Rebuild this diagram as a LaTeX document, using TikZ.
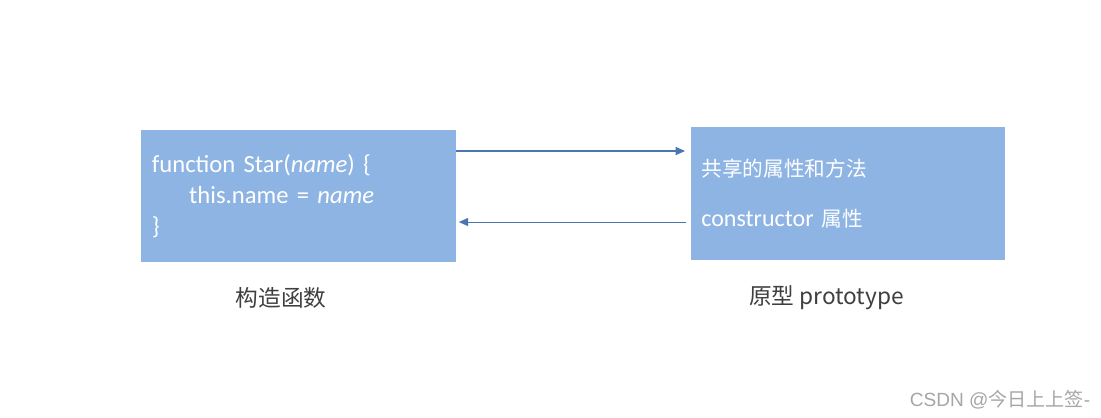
\documentclass[tikz,border=0pt]{standalone}
\usepackage{fontspec}
\setmainfont{Carlito}
\newfontfamily\cjk{Noto Sans CJK SC}
\newfontfamily\wm{Liberation Sans}
\usepackage{xcolor}
\usepackage{tikz}
\usetikzlibrary{arrows.meta,positioning}
\definecolor{boxblue}{HTML}{8EB4E3}
\definecolor{arrowblue}{HTML}{4A76B4}
\definecolor{labelgray}{HTML}{3F3F3F}
\definecolor{markgray}{HTML}{A6A6A6}
\tikzset{card/.style={fill=boxblue,text=white,minimum width=236pt,minimum height=99pt,inner xsep=8pt,align=left,anchor=center},link/.style={-{Triangle[length=7pt,width=6pt]},draw=arrowblue,line width=.8pt},caption/.style={text=labelgray,font=\cjk\fontsize{17pt}{20pt}\selectfont}}

\begin{document}
\begin{tikzpicture}[x=0.75pt,y=-0.75pt]
\useasboundingbox[fill=white] (0,0) rectangle (1101,418);
\node[card,font=\fontsize{18.5pt}{23.5pt}\selectfont,text width=220pt] (ctor) at (298.5,196) {function Star(\textit{name}) \{\\\hspace*{28pt}this.name = \textit{name}\\\}};
\node[card,font=\fontsize{18pt}{37pt}\selectfont,text width=220pt,minimum height=100pt] (proto) at (848,193.5) {{\cjk\fontsize{15.5pt}{37pt}\selectfont 共享的属性和方法}\\constructor {\cjk\fontsize{15.5pt}{37pt}\selectfont 属性}};
% arrow ends
\coordinate (toptail) at ([yshift=33.75pt]ctor.east);
\coordinate (tophead) at ([xshift=-4pt]proto.west |- toptail);
\coordinate (lowtail) at ([yshift=-21.4pt,xshift=-3pt]proto.west);
\coordinate (lowhead) at ([xshift=2pt]ctor.east |- lowtail);
\draw[link] (toptail) -- (tophead);
\draw[link] (lowtail) -- (lowhead);
\node[caption] (ctorlabel) at (281,298) {构造函数};
\node[caption] (protolabel) at (826.5,298) {原型 prototype};
\node[text=markgray,font=\wm\fontsize{14.3pt}{16pt}\selectfont] (mark) at (1000,400) {CSDN @{\cjk 今日上上签}-};
\end{tikzpicture}
\end{document}
